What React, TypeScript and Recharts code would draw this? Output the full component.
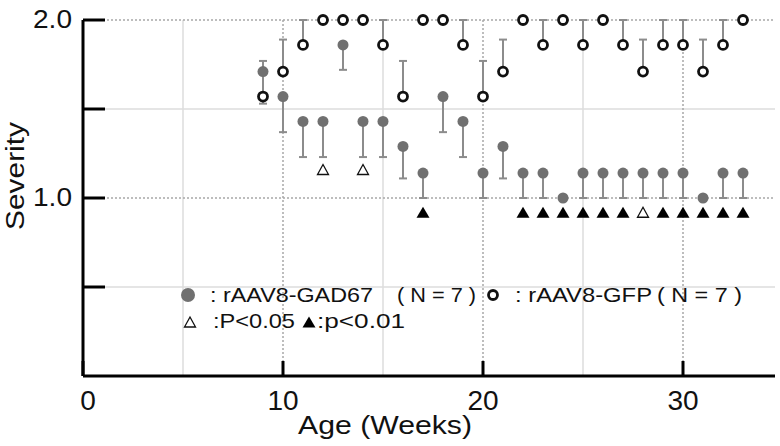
import React from 'react'
import { ScatterChart, Scatter, XAxis, YAxis, CartesianGrid, ErrorBar, Legend, Label } from 'recharts'

const FONT = '"Liberation Sans", Arial, Helvetica, sans-serif'

// weekly mean severity, N = 7 per group
const weeks = [9, 10, 11, 12, 13, 14, 15, 16, 17, 18, 19, 20, 21, 22, 23, 24, 25, 26, 27, 28, 29, 30, 31, 32, 33]
const gad67 = [1.71, 1.57, 1.43, 1.43, 1.86, 1.43, 1.43, 1.29, 1.14, 1.57, 1.43, 1.14, 1.29, 1.14, 1.14, 1.0, 1.14, 1.14, 1.14, 1.14, 1.14, 1.14, 1.0, 1.14, 1.14]
const gad67Sem = [0.18, 0.2, 0.2, 0.2, 0.14, 0.2, 0.2, 0.18, 0.14, 0.2, 0.2, 0.14, 0.18, 0.14, 0.14, 0, 0.14, 0.14, 0.14, 0.14, 0.14, 0.14, 0, 0.14, 0.14]
const gfp = [1.57, 1.71, 1.86, 2.0, 2.0, 2.0, 1.86, 1.57, 2.0, 2.0, 1.86, 1.57, 1.71, 2.0, 1.86, 2.0, 1.86, 2.0, 1.86, 1.71, 1.86, 1.86, 1.71, 1.86, 2.0]
const gfpSem = [0.2, 0.18, 0.14, 0, 0, 0, 0.14, 0.2, 0, 0, 0.14, 0.2, 0.18, 0, 0.14, 0, 0.14, 0, 0.14, 0.18, 0.14, 0.14, 0.18, 0.14, 0]

// significance markers
const p05Weeks = [12, 14, 28]
const p05Level = [1.16, 1.16, 0.92]
const p01Weeks = [17, 22, 23, 24, 25, 26, 27, 29, 30, 31, 32, 33]
const p01Level = 0.92

const xTicks = [0, 10, 20, 30]
const yTicks = [0.5, 1, 1.5, 2]
const yTickLabels = ['', '1.0', '', '2.0']
const majorX = [10, 20, 30]
const minorX = [5, 15, 25]
const majorY = [1, 2]
const minorY = [0.5, 1.5]

const gadData = weeks.map((week, i) => ({ week, sev: gad67[i], err: [gad67Sem[i], 0] }))
const gfpData = weeks.map((week, i) => ({ week, sev: gfp[i], err: [0, gfpSem[i]] }))
const p05Data = p05Weeks.map((week, i) => ({ week, sev: p05Level[i] }))
const p01Data = p01Weeks.map((week) => ({ week, sev: p01Level }))

const GRAY = '#707070'

const XTick = (props: any) => {
  const { x, y, payload } = props
  return (
    <text x={x + (payload.value === 0 ? 5 : 0)} y={y + 34} textAnchor="middle" fontSize={28} fontFamily={FONT} fill="#111">
      {payload.value}
    </text>
  )
}

const YTick = (props: any) => {
  const { x, y, payload } = props
  const label = yTickLabels[yTicks.indexOf(payload.value)]
  if (!label) return <g />
  return (
    <text x={x} y={y + 8} textAnchor="end" fontSize={25} fontFamily={FONT} fill="#111" textLength={39} lengthAdjust="spacingAndGlyphs">
      {label}
    </text>
  )
}

const tri = (cx: number, cy: number, w: number, h: number) =>
  `M${cx - w / 2},${cy + h / 2} L${cx + w / 2},${cy + h / 2} L${cx},${cy - h / 2} Z`

const LegendBox = () => (
  <svg width={780} height={446} style={{ position: 'absolute', left: 0, top: 0 }}>
    <g fontFamily={FONT} fontSize={21} fill="#111">
      <circle cx={188} cy={295} r={7} fill={GRAY} />
      <text x={210} y={302} textLength={163} lengthAdjust="spacingAndGlyphs">: rAAV8-GAD67</text>
      <text x={397} y={302} textLength={79} lengthAdjust="spacingAndGlyphs">( N = 7 )</text>
      <circle cx={493} cy={295} r={4.5} fill="#fff" stroke="#111" strokeWidth={2.8} />
      <text x={515} y={302} textLength={137} lengthAdjust="spacingAndGlyphs">: rAAV8-GFP</text>
      <text x={657} y={302} textLength={85} lengthAdjust="spacingAndGlyphs">( N = 7 )</text>
      <path d={tri(190, 322, 11, 10)} fill="#fff" stroke="#111" strokeWidth={1.3} />
      <text x={213} y={328} textLength={82} lengthAdjust="spacingAndGlyphs">:P&lt;0.05</text>
      <path d={tri(309, 322, 13, 11)} fill="#000" />
      <text x={317} y={328} textLength={88} lengthAdjust="spacingAndGlyphs">:p&lt;0.01</text>
    </g>
  </svg>
)

export default function App() {
  return (
    <div style={{ position: 'absolute', left: 0, top: 0, width: 780, height: 446, background: '#fff' }}>
      <ScatterChart width={780} height={446} margin={{ top: 20, right: 5, bottom: 0, left: 0 }}>
        <CartesianGrid horizontalValues={minorY} verticalValues={minorX} stroke="#dddddd" strokeWidth={1.5} />
        <CartesianGrid horizontalValues={majorY} verticalValues={majorX} stroke="#a8a8a8" strokeWidth={1.5} strokeDasharray="2 2" />
        <XAxis
          type="number"
          dataKey="week"
          domain={[0, 34.6]}
          ticks={xTicks}
          height={70}
          tickSize={-15}
          tickMargin={15}
          axisLine={{ stroke: '#000', strokeWidth: 3 }}
          tickLine={{ stroke: '#000', strokeWidth: 3 }}
          tick={<XTick />}
        >
          <Label
            content={() => (
              <text x={385} y={434} textAnchor="middle" fontSize={25} fontFamily={FONT} fill="#111" textLength={174} lengthAdjust="spacingAndGlyphs">
                Age (Weeks)
              </text>
            )}
          />
        </XAxis>
        <YAxis
          type="number"
          dataKey="sev"
          domain={[0, 2]}
          ticks={yTicks}
          width={83}
          tickSize={-22}
          tickMargin={33}
          axisLine={{ stroke: '#000', strokeWidth: 3 }}
          tickLine={{ stroke: '#000', strokeWidth: 3 }}
          tick={<YTick />}
        >
          <Label
            content={() => (
              <text transform="translate(24,176) rotate(-90)" textAnchor="middle" fontSize={26} fontFamily={FONT} fill="#111" textLength={108} lengthAdjust="spacingAndGlyphs">
                Severity
              </text>
            )}
          />
        </YAxis>
        <Legend verticalAlign="middle" layout="horizontal" content={() => <LegendBox />} wrapperStyle={{ left: 0, top: 0, width: 780, height: 446 }} />
        <Scatter
          name="rAAV8-GAD67"
          data={gadData}
          isAnimationActive={false}
          shape={(p: any) => <circle cx={p.cx} cy={p.cy} r={5.5} fill={GRAY} />}
        >
          <ErrorBar dataKey="err" direction="y" width={4} stroke="#8c8c8c" strokeWidth={2} />
        </Scatter>
        <Scatter
          name="rAAV8-GFP"
          data={gfpData}
          isAnimationActive={false}
          shape={(p: any) => <circle cx={p.cx} cy={p.cy} r={4.5} fill="#fff" stroke="#111" strokeWidth={2.8} />}
        >
          <ErrorBar dataKey="err" direction="y" width={4} stroke="#8c8c8c" strokeWidth={2} />
        </Scatter>
        <Scatter
          name="P<0.05"
          data={p05Data}
          isAnimationActive={false}
          shape={(p: any) => <path d={tri(p.cx, p.cy, 11, 10)} fill="#fff" stroke="#111" strokeWidth={1.3} />}
        />
        <Scatter
          name="p<0.01"
          data={p01Data}
          isAnimationActive={false}
          shape={(p: any) => <path d={tri(p.cx, p.cy, 13, 11)} fill="#000" />}
        />
      </ScatterChart>
    </div>
  )
}
